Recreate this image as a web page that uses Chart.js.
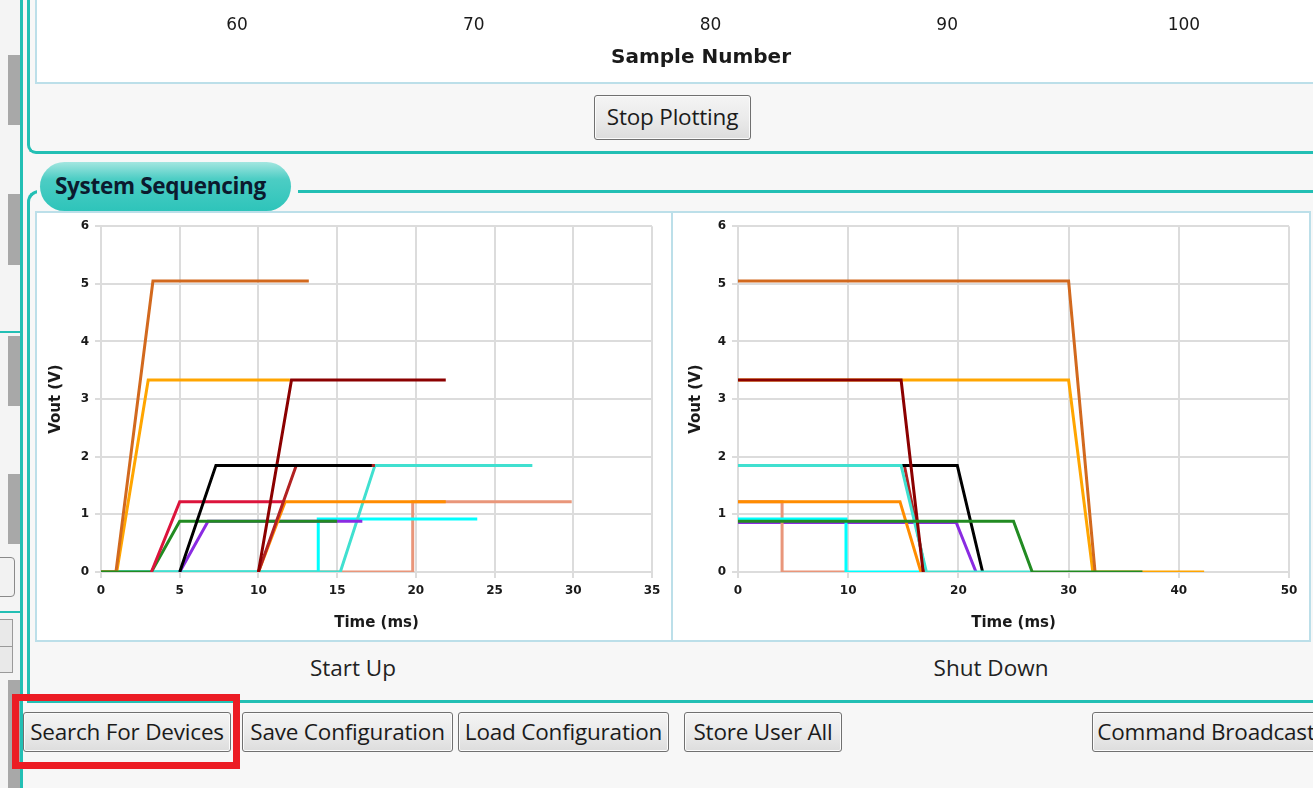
<!DOCTYPE html>
<html>
<head>
<meta charset="utf-8">
<script src="https://cdn.jsdelivr.net/npm/chart.js@4.4.1/dist/chart.umd.min.js"></script>
<style>
html,body{margin:0;padding:0;}
body{width:1313px;height:788px;position:relative;overflow:hidden;background:#f7f7f7;font-family:"Open Sans","Noto Sans",sans-serif;}
.abs{position:absolute;box-sizing:border-box;}
.gray{background:#a8a8a8;}
.teal{background:#23bfb4;}
.btn{position:absolute;box-sizing:border-box;height:40px;border:1px solid #707070;border-radius:3px;
  background:linear-gradient(#f4f4f4 0%,#ebebeb 50%,#dddddd 100%);box-shadow:inset 0 0 0 1px #fbfbfb;
  font-size:22.5px;line-height:37px;color:#1b1b1b;text-align:center;white-space:nowrap;overflow:hidden;letter-spacing:-0.2px;}
.panel{position:absolute;box-sizing:border-box;background:#fff;border:2px solid #bcdfe9;}
.cap{position:absolute;font-size:22.5px;color:#222;transform:translateX(-50%);white-space:nowrap;}
canvas{position:absolute;}
</style>
</head>
<body>
<!-- left strip -->
<div class="abs" style="left:0;top:0;width:21px;height:788px;background:#f4f4f4;"></div>
<div class="abs gray" style="left:8px;top:55px;width:12px;height:70px;"></div>
<div class="abs gray" style="left:8px;top:194px;width:12px;height:71px;"></div>
<div class="abs teal" style="left:0;top:331px;width:21px;height:2px;"></div>
<div class="abs gray" style="left:8px;top:336px;width:12px;height:70px;"></div>
<div class="abs gray" style="left:8px;top:474px;width:12px;height:70px;"></div>
<div class="abs" style="left:-6px;top:557px;width:21px;height:40px;border:1px solid #8a8a8a;border-radius:4px;background:#f2f2f2;"></div>
<div class="abs teal" style="left:0;top:611px;width:21px;height:2px;"></div>
<div class="abs" style="left:-4px;top:619px;width:17px;height:28px;border:1px solid #9a9a9a;background:#e9e9e9;"></div>
<div class="abs" style="left:-4px;top:646px;width:17px;height:27px;border:1px solid #9a9a9a;background:#e9e9e9;"></div>
<div class="abs gray" style="left:8px;top:680px;width:12px;height:108px;"></div>
<div class="abs teal" style="left:20px;top:0;width:3px;height:788px;"></div>

<!-- top section -->
<div class="abs" style="left:27px;top:-10px;width:1400px;height:164px;border-left:3px solid #23bfb4;border-bottom:3px solid #23bfb4;border-bottom-left-radius:9px;background:#f7f7f7;"></div>
<div class="abs" style="left:35px;top:-5px;width:1400px;height:89px;border:2px solid #bcdfe9;background:#fff;"></div>
<canvas id="topAxis" width="1328" height="203" style="left:37px;top:-120px;"></canvas>
<div class="btn" style="left:594px;top:95px;width:157px;height:45px;line-height:42px;">Stop Plotting</div>

<!-- group box -->
<div class="abs" style="left:27px;top:190px;width:1400px;height:513px;border:3px solid #23bfb4;border-right:none;border-top-left-radius:12px;background:#f7f7f7;"></div>
<div class="abs" style="left:37px;top:186px;width:261px;height:8px;background:#f7f7f7;"></div>
<div class="abs" style="left:40px;top:162px;width:251px;height:49px;border-radius:25px;
  background:linear-gradient(#a3e6e0 0%,#4ccdc4 35%,#2ec4ba 100%);
  font-weight:bold;font-size:22.5px;line-height:47px;padding-left:15px;color:#0b1a2e;white-space:nowrap;letter-spacing:-0.3px;">System Sequencing</div>

<div class="panel" style="left:35px;top:211px;width:638px;height:431px;"></div>
<div class="panel" style="left:671px;top:211px;width:640px;height:431px;"></div>
<canvas id="startUp" width="634" height="427" style="left:37px;top:213px;"></canvas>
<canvas id="shutDown" width="634" height="427" style="left:675px;top:213px;"></canvas>
<div class="cap" style="left:353px;top:652px;">Start Up</div>
<div class="cap" style="left:991px;top:652px;">Shut Down</div>

<!-- bottom buttons -->
<div class="btn" style="left:23px;top:712px;width:208px;">Search For Devices</div>
<div class="btn" style="left:242px;top:712px;width:211px;">Save Configuration</div>
<div class="btn" style="left:458px;top:712px;width:211px;">Load Configuration</div>
<div class="btn" style="left:684px;top:712px;width:158px;">Store User All</div>
<div class="btn" style="left:1092px;top:712px;width:228px;">Command Broadcast</div>
<div class="abs" style="left:12px;top:694px;width:228px;height:75px;border:7px solid #ec1c24;"></div>

<script>
// ---------- Top chart axis (Sample Number) ----------
const sampleTicks = [60, 70, 80, 90, 100];

// ---------- Start Up data (time ms, Vout V) ----------
const suBlackT      = [5.0, 7.3, 17.2];
const suBlackV      = [0, 1.85, 1.85];
const suDarkRedT    = [10.0, 12.1, 21.9];
const suDarkRedV    = [0, 3.33, 3.33];
const suFirebrickT  = [10.0, 12.4, 17.4];
const suFirebrickV  = [0, 1.85, 1.85];
const suDarkOrangeT = [10.0, 11.7, 21.9];
const suDarkOrangeV = [0, 1.22, 1.22];
const suCrimsonT    = [3.2, 5.0, 11.7];
const suCrimsonV    = [0, 1.22, 1.22];
const suGreenT      = [0, 3.2, 5.0, 15.0];
const suGreenV      = [0, 0, 0.88, 0.88];
const suPurpleT     = [5.0, 6.8, 16.6];
const suPurpleV     = [0, 0.88, 0.88];
const suChocolateT  = [0, 0.95, 3.3, 13.2];
const suChocolateV  = [0, 0, 5.05, 5.05];
const suOrangeT     = [0, 1.0, 3.0, 12.0];
const suOrangeV     = [0, 0, 3.33, 3.33];
const suTurquoiseT  = [0, 15.2, 17.4, 27.4];
const suTurquoiseV  = [0, 0, 1.85, 1.85];
const suCyanT       = [0, 13.8, 13.8, 23.9];
const suCyanV       = [0, 0, 0.92, 0.92];
const suSalmonT     = [0, 19.8, 19.8, 29.9];
const suSalmonV     = [0, 0, 1.22, 1.22];

// ---------- Shut Down data (time ms, Vout V) ----------
const sdGreenT      = [0, 25.0, 26.7, 36.7];
const sdGreenV      = [0.88, 0.88, 0, 0];
const sdDarkRedT    = [0, 14.8, 16.8];
const sdDarkRedV    = [3.33, 3.33, 0];
const sdTurquoiseT  = [0, 14.8, 17.1, 26.7];
const sdTurquoiseV  = [1.85, 1.85, 0, 0];
const sdBlackT      = [0, 19.9, 22.2];
const sdBlackV      = [1.85, 1.85, 0];
const sdFirebrickT  = [0, 15.1, 17.0];
const sdFirebrickV  = [1.85, 1.85, 0];
const sdDarkOrangeT = [0, 14.7, 16.6];
const sdDarkOrangeV = [1.22, 1.22, 0];
const sdCyanT       = [0, 9.8, 9.8, 16.6];
const sdCyanV       = [0.92, 0.92, 0, 0];
const sdSalmonT     = [0, 4.0, 4.0, 9.8];
const sdSalmonV     = [1.22, 1.22, 0, 0];
const sdPurpleT     = [0, 19.8, 21.6];
const sdPurpleV     = [0.86, 0.86, 0];
const sdChocolateT  = [0, 30.0, 32.4];
const sdChocolateV  = [5.05, 5.05, 0];
const sdOrangeT     = [0, 30.0, 32.2, 42.3];
const sdOrangeV     = [3.33, 3.33, 0, 0];

const startUpTicksX = [0, 5, 10, 15, 20, 25, 30, 35];
const shutDownTicksX = [0, 10, 20, 30, 40, 50];
const voltTicks = [0, 1, 2, 3, 4, 5, 6];

// series lists, top-most first (styles kept apart from the data arrays)
const startUpSeries = [
  [suBlackT, suBlackV, '#000000'],
  [suDarkRedT, suDarkRedV, '#8b0000'],
  [suFirebrickT, suFirebrickV, '#b22222'],
  [suDarkOrangeT, suDarkOrangeV, '#ff8c00'],
  [suCrimsonT, suCrimsonV, '#dc143c'],
  [suGreenT, suGreenV, '#228b22'],
  [suPurpleT, suPurpleV, '#8a2be2'],
  [suChocolateT, suChocolateV, '#d2691e'],
  [suOrangeT, suOrangeV, '#ffa500'],
  [suTurquoiseT, suTurquoiseV, '#40e0d0'],
  [suCyanT, suCyanV, '#00ffff'],
  [suSalmonT, suSalmonV, '#e9967a']
];
const shutDownSeries = [
  [sdGreenT, sdGreenV, '#228b22'],
  [sdDarkRedT, sdDarkRedV, '#8b0000'],
  [sdTurquoiseT, sdTurquoiseV, '#40e0d0'],
  [sdBlackT, sdBlackV, '#000000'],
  [sdFirebrickT, sdFirebrickV, '#b22222'],
  [sdDarkOrangeT, sdDarkOrangeV, '#ff8c00'],
  [sdCyanT, sdCyanV, '#00ffff'],
  [sdSalmonT, sdSalmonV, '#e9967a'],
  [sdPurpleT, sdPurpleV, '#8a2be2'],
  [sdChocolateT, sdChocolateV, '#d2691e'],
  [sdOrangeT, sdOrangeV, '#ffa500']
];

Chart.defaults.font.family = "'DejaVu Sans', Verdana, sans-serif";
Chart.defaults.color = '#111';

function toPoints(t, v) { return t.map((x, i) => ({ x: x, y: v[i] })); }
function fixedTicks(list) { return function (scale) { scale.ticks = list.map(v => ({ value: v })); }; }

const gridColor = '#dcdcdc';

function panelChart(id, series, xTicks, geo) {
  return new Chart(document.getElementById(id), {
    type: 'line',
    data: {
      datasets: series.map(s => ({
        data: toPoints(s[0], s[1]), borderColor: s[2], borderWidth: 3,
        pointRadius: 0, tension: 0, fill: false
      }))
    },
    options: {
      responsive: false, animation: false, events: [],
      plugins: { legend: { display: false }, tooltip: { enabled: false } },
      layout: { padding: { top: geo.top, right: geo.right, left: 0, bottom: 0 } },
      scales: {
        x: {
          type: 'linear', min: xTicks[0], max: xTicks[xTicks.length - 1],
          afterBuildTicks: fixedTicks(xTicks),
          ticks: { padding: 6, font: { size: 12, weight: 'bold' }, color: '#1a1a1a', maxRotation: 0, autoSkip: false },
          grid: { color: gridColor, lineWidth: 2, tickLength: 6 },
          border: { color: gridColor, width: 2 },
          title: { display: true, text: 'Time (ms)', font: { size: 15, weight: 'bold' }, color: '#1a1a1a', padding: { top: 0, bottom: 8 } },
          afterFit: s => { s.height = geo.xh; }
        },
        y: {
          type: 'linear', min: voltTicks[0], max: voltTicks[voltTicks.length - 1],
          afterBuildTicks: fixedTicks(voltTicks),
          ticks: { padding: 6, font: { size: 12, weight: 'bold' }, color: '#1a1a1a', autoSkip: false },
          grid: { color: gridColor, lineWidth: 2, tickLength: 6 },
          border: { color: gridColor, width: 2 },
          title: { display: true, text: 'Vout (V)', font: { size: 15, weight: 'bold' }, color: '#1a1a1a', padding: { top: geo.titlePad, bottom: 0 } },
          afterFit: s => { s.width = geo.yw; }
        }
      }
    }
  });
}

panelChart('startUp', startUpSeries, startUpTicksX, { top: 11, right: 19, xh: 68, yw: 64, titlePad: 10 });
panelChart('shutDown', shutDownSeries, shutDownTicksX, { top: 11, right: 20, xh: 68, yw: 63, titlePad: 12 });

// top chart: only the bottom of its x axis is visible
new Chart(document.getElementById('topAxis'), {
  type: 'line',
  data: { datasets: [] },
  options: {
    responsive: false, animation: false, events: [],
    plugins: { legend: { display: false }, tooltip: { enabled: false } },
    layout: { padding: 0 },
    scales: {
      x: {
        type: 'linear', min: 51.55, max: 107.65,
        afterBuildTicks: fixedTicks(sampleTicks),
        ticks: { padding: 24, font: { size: 17 }, color: '#1a1a1a', maxRotation: 0, autoSkip: false },
        grid: { display: false },
        border: { display: false },
        title: { display: true, text: 'Sample Number', font: { size: 20, weight: 'bold' }, color: '#1a1a1a', padding: { top: 0, bottom: 13 } },
        afterFit: s => { s.height = 100; }
      },
      y: { display: false, min: 0, max: 1 }
    }
  }
});
</script>
</body>
</html>
